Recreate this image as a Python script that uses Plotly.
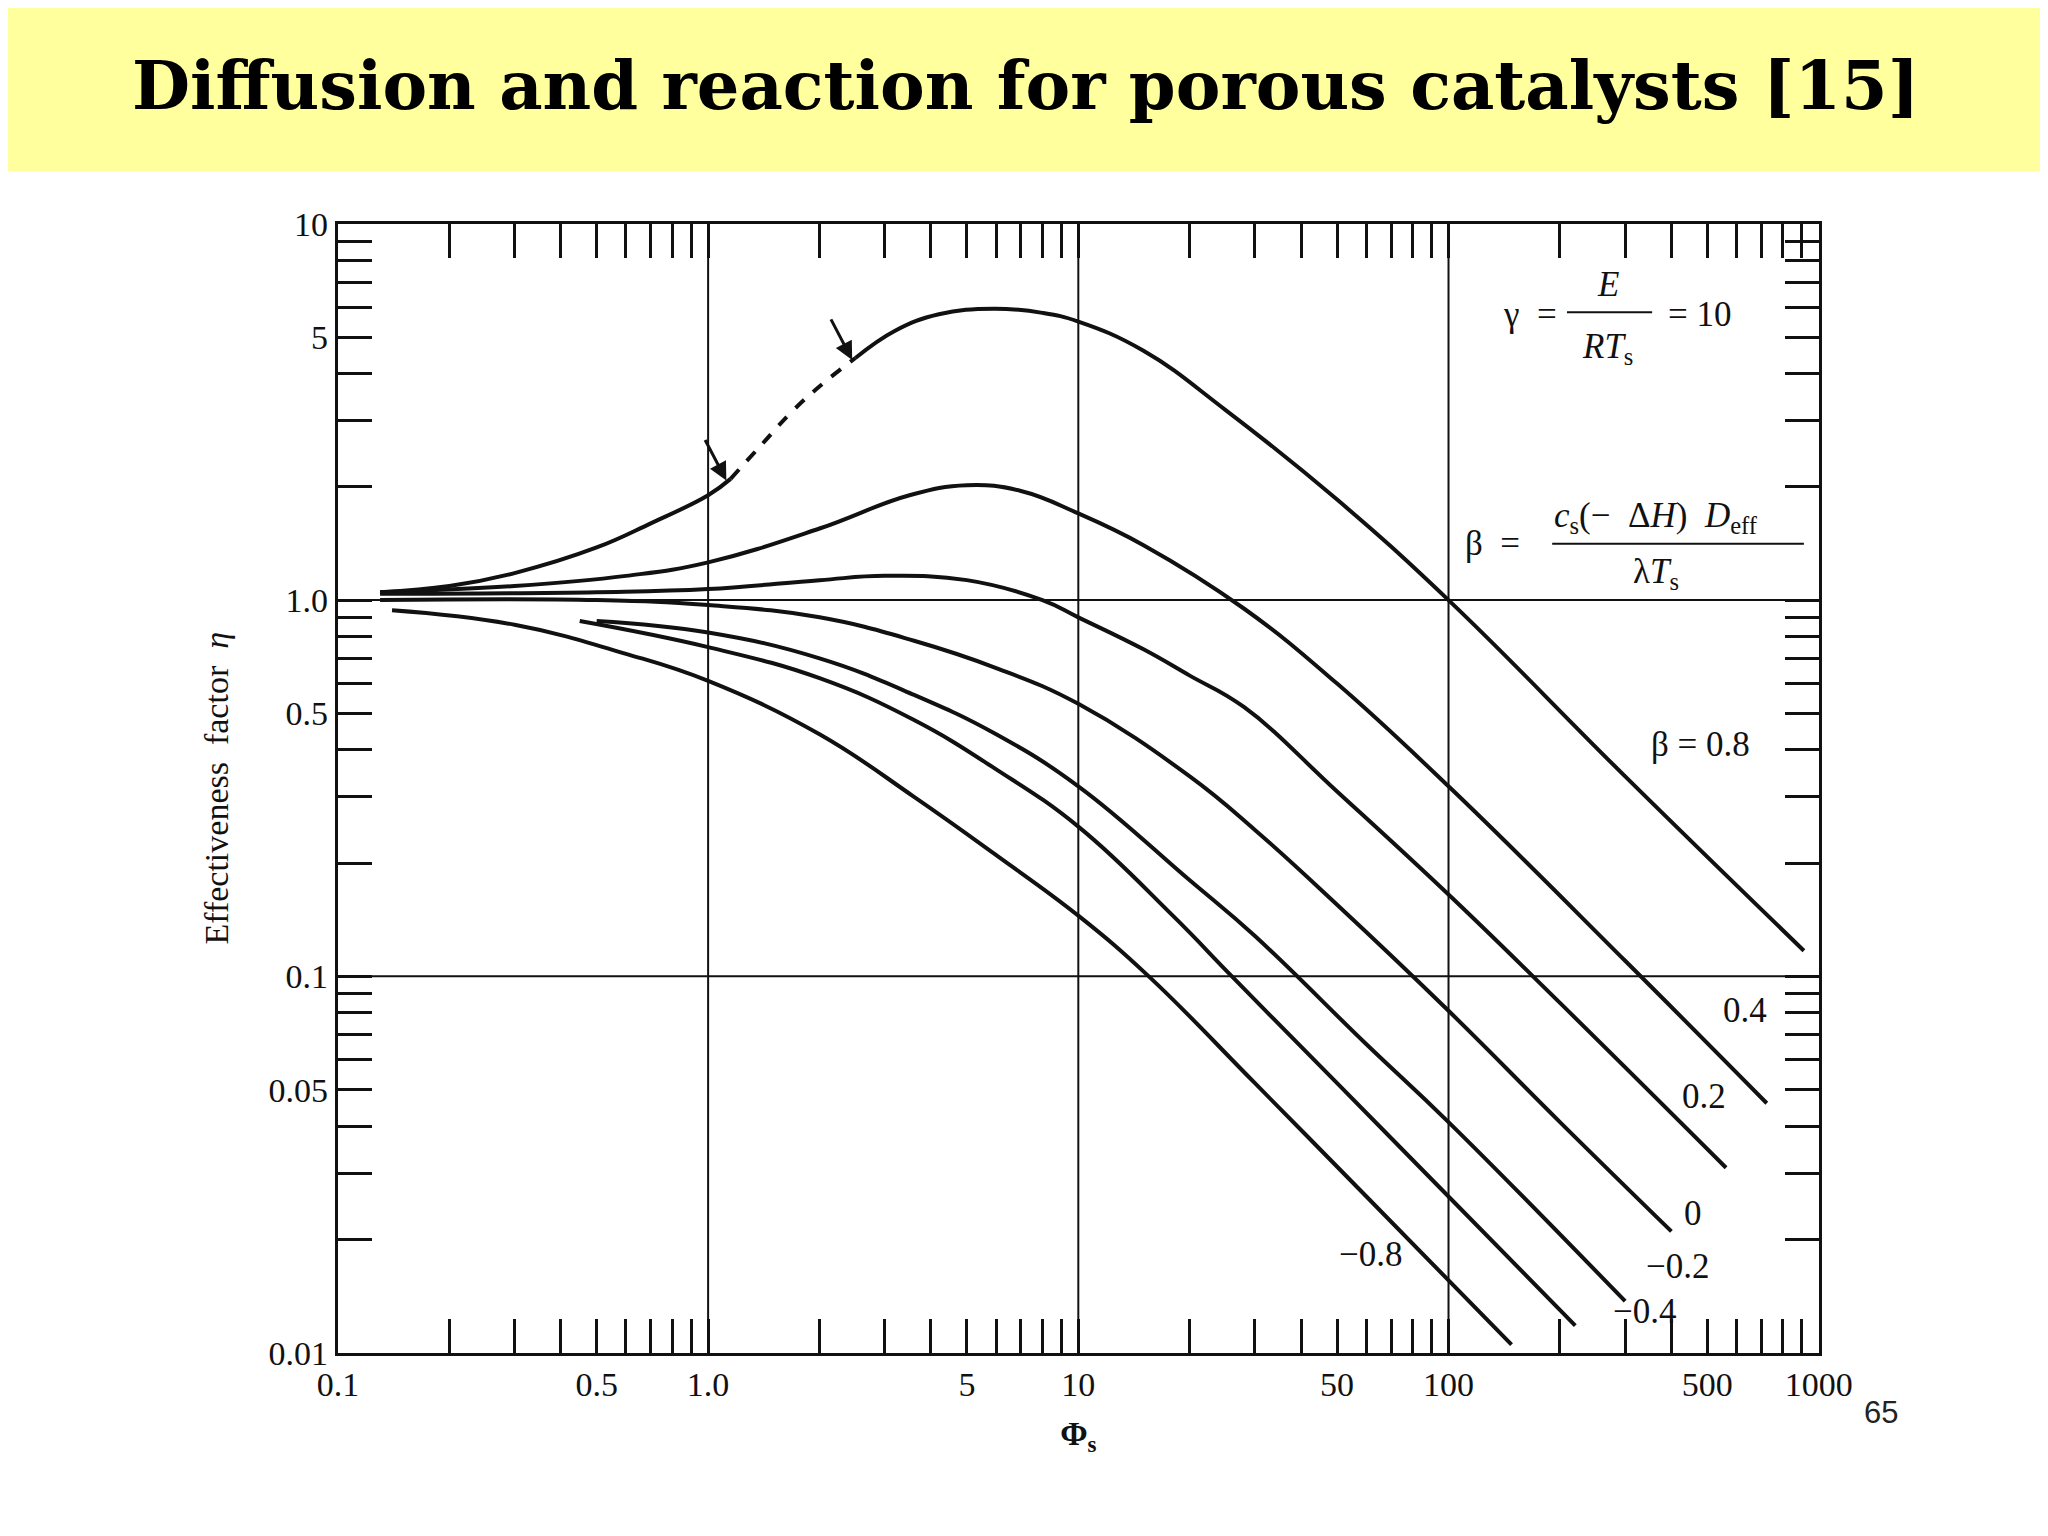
import math
import plotly.graph_objects as go

# curve data (phi_s, eta)
PHI_08A = [0.13, 0.2, 0.3, 0.5, 0.7, 1.0, 1.15]
ETA_08A = [1.05, 1.09, 1.18, 1.38, 1.6, 1.9, 2.1]
PHI_08D = [1.15, 1.4, 1.7, 2.1, 2.5]
ETA_08D = [2.1, 2.6, 3.2, 3.85, 4.4]
PHI_08B = [2.5, 3.2, 4.2, 5.9, 8, 10, 15, 25, 50, 100, 300, 912]
ETA_08B = [4.4, 5.2, 5.75, 5.95, 5.8, 5.5, 4.6, 3.2, 1.85, 1.0, 0.34, 0.117]

PHI_04 = [0.13, 0.3, 0.6, 1.0, 2, 3.5, 5, 7, 10, 15, 28, 50, 100, 300, 724]
ETA_04 = [1.05, 1.09, 1.16, 1.26, 1.55, 1.9, 2.02, 1.95, 1.7, 1.4, 0.95, 0.6, 0.32, 0.11, 0.046]

PHI_02 = [0.13, 0.5, 1, 2, 3, 5, 8, 10, 15, 20, 28, 50, 100, 200, 562]
ETA_02 = [1.04, 1.05, 1.07, 1.13, 1.16, 1.13, 1.0, 0.9, 0.74, 0.63, 0.52, 0.31, 0.165, 0.085, 0.031]

PHI_0 = [0.13, 0.5, 1, 2, 3.6, 6, 10, 20, 30, 50, 100, 200, 400]
ETA_0 = [1.0, 1.0, 0.97, 0.9, 0.78, 0.66, 0.53, 0.34, 0.245, 0.155, 0.081, 0.041, 0.021]

PHI_M02 = [0.5, 1, 2, 3.6, 6, 10, 20, 30, 60, 100, 300]
ETA_M02 = [0.88, 0.82, 0.7, 0.56, 0.44, 0.32, 0.18, 0.128, 0.066, 0.041, 0.0137]

PHI_M04 = [0.45, 1, 2, 3.6, 6, 10, 18, 26, 50, 100, 220]
ETA_M04 = [0.88, 0.75, 0.62, 0.48, 0.355, 0.25, 0.145, 0.1, 0.052, 0.026, 0.0118]

PHI_M08 = [0.14, 0.3, 0.6, 1, 2, 3.6, 6, 10, 15.5, 30, 60, 148]
ETA_M08 = [0.94, 0.86, 0.72, 0.61, 0.44, 0.3, 0.21, 0.145, 0.1, 0.052, 0.026, 0.0105]

X_TICKS = [0.1, 0.2, 0.3, 0.4, 0.5, 0.6, 0.7, 0.8, 0.9, 1, 2, 3, 4, 5, 6, 7, 8, 9,
           10, 20, 30, 40, 50, 60, 70, 80, 90, 100, 200, 300, 400, 500, 600, 700, 800, 900, 1000]
X_LABELS = {0.1: "0.1", 0.5: "0.5", 1: "1.0", 5: "5", 10: "10", 50: "50", 100: "100", 500: "500", 1000: "1000"}
Y_TICKS = [0.01, 0.02, 0.03, 0.04, 0.05, 0.06, 0.07, 0.08, 0.09, 0.1, 0.2, 0.3, 0.4, 0.5, 0.6, 0.7, 0.8, 0.9,
           1, 2, 3, 4, 5, 6, 7, 8, 9, 10]
Y_LABELS = {0.01: "0.01", 0.05: "0.05", 0.1: "0.1", 0.5: "0.5", 1: "1.0", 5: "5", 10: "10"}

SERIF = "Liberation Serif"
INK = "#111111"
X_DOM = [0.155, 0.898]
Y_DOM = [0.115, 0.868]

fig = go.Figure()

solid = [(PHI_08A, ETA_08A), (PHI_08B, ETA_08B), (PHI_04, ETA_04), (PHI_02, ETA_02),
         (PHI_0, ETA_0), (PHI_M02, ETA_M02), (PHI_M04, ETA_M04), (PHI_M08, ETA_M08)]
for xs, ys in solid:
    fig.add_trace(go.Scatter(x=xs, y=ys, mode="lines",
                             line=dict(color=INK, width=4, shape="spline", smoothing=1.2),
                             showlegend=False, hoverinfo="skip"))
fig.add_trace(go.Scatter(x=PHI_08D, y=ETA_08D, mode="lines",
                         line=dict(color=INK, width=4, dash="dash", shape="spline", smoothing=1.2),
                         showlegend=False, hoverinfo="skip"))

# decade grid lines
for v in [1, 10, 100]:
    fig.add_shape(type="line", xref="x", yref="paper", x0=v, x1=v, y0=Y_DOM[0], y1=Y_DOM[1],
                  line=dict(color=INK, width=2))
for v in [1, 0.1]:
    fig.add_shape(type="line", xref="paper", yref="y", x0=X_DOM[0], x1=X_DOM[1], y0=v, y1=v,
                  line=dict(color=INK, width=2))

# banner
fig.add_shape(type="rect", xref="paper", yref="paper", x0=-0.05, x1=1.05, y0=0.903, y1=1.05,
              fillcolor="#FFFF9E", line=dict(width=0), layer="below")
fig.add_annotation(text="<b>Diffusion and reaction for porous catalysts [15]</b>", xref="paper", yref="paper",
                   x=0.5, y=0.988, showarrow=False, font=dict(family="DejaVu Serif", size=67, color="black"))
fig.add_annotation(text="65", xref="paper", yref="paper", x=0.939, y=0.062, showarrow=False,
                   font=dict(family="Liberation Sans", size=31, color="#222"))

lab = dict(family=SERIF, size=35, color=INK)
labels = [("β = 0.8", 2.68, -0.384), ("0.4", 2.80, -1.09), ("0.2", 2.69, -1.32), ("0", 2.66, -1.63),
          ("−0.2", 2.62, -1.77), ("−0.4", 2.53, -1.89), ("−0.8", 1.79, -1.74)]
for t, lx, ly in labels:
    fig.add_annotation(text=t, x=lx, y=ly, showarrow=False, font=lab)

# gamma formula
fig.add_annotation(text="γ  =", x=2.22, y=0.76, showarrow=False, font=lab)
fig.add_annotation(text="<i>E</i>", x=2.43, y=0.84, showarrow=False, font=lab)
fig.add_annotation(text="<i>RT</i><sub>s</sub>", x=2.43, y=0.67, showarrow=False, font=lab)
fig.add_annotation(text="= 10", x=2.68, y=0.76, showarrow=False, font=lab)
fig.add_shape(type="line", x0=10 ** 2.32, x1=10 ** 2.55, y0=10 ** 0.765, y1=10 ** 0.765, line=dict(color=INK, width=2))
# beta formula
fig.add_annotation(text="β  =", x=2.12, y=0.15, showarrow=False, font=lab)
fig.add_annotation(text="<i>c</i><sub>s</sub>(−  Δ<i>H</i>)  <i>D</i><sub>eff</sub>", x=2.56, y=0.22,
                   showarrow=False, font=lab)
fig.add_annotation(text="λ<i>T</i><sub>s</sub>", x=2.56, y=0.07, showarrow=False, font=lab)
fig.add_shape(type="line", x0=10 ** 2.28, x1=10 ** 2.96, y0=10 ** 0.15, y1=10 ** 0.15, line=dict(color=INK, width=2))

# arrows at the dashed segment
for px, py in [(1.12, 2.08), (2.45, 4.35)]:
    fig.add_annotation(x=math.log10(px), y=math.log10(py), ax=-22, ay=-42,
                       showarrow=True, arrowhead=2, arrowsize=1.2, arrowwidth=3, arrowcolor=INK, text="")

axis_common = dict(type="log", ticks="inside", ticklen=34, tickwidth=2.5, tickcolor=INK, mirror="ticks",
                   showline=True, linecolor=INK, linewidth=3, showgrid=False, zeroline=False,
                   tickfont=dict(family=SERIF, size=34, color=INK))
fig.update_xaxes(**axis_common, range=[-1, 3], domain=X_DOM, tickvals=X_TICKS,
                 ticktext=[X_LABELS.get(v, "") for v in X_TICKS],
                 title=dict(text="<b>Φ<sub>s</sub></b>", font=dict(family=SERIF, size=33, color=INK), standoff=20))
fig.update_yaxes(**axis_common, range=[-2, 1], domain=Y_DOM, tickvals=Y_TICKS,
                 ticktext=[Y_LABELS.get(v, "") for v in Y_TICKS],
                 title=dict(text="Effectiveness  factor  <i>η</i>", font=dict(family=SERIF, size=34, color=INK),
                            standoff=30))

fig.update_layout(width=2048, height=1536, paper_bgcolor="white", plot_bgcolor="white",
                  margin=dict(l=0, r=0, t=0, b=0), showlegend=False)

fig.write_html("out.html")
